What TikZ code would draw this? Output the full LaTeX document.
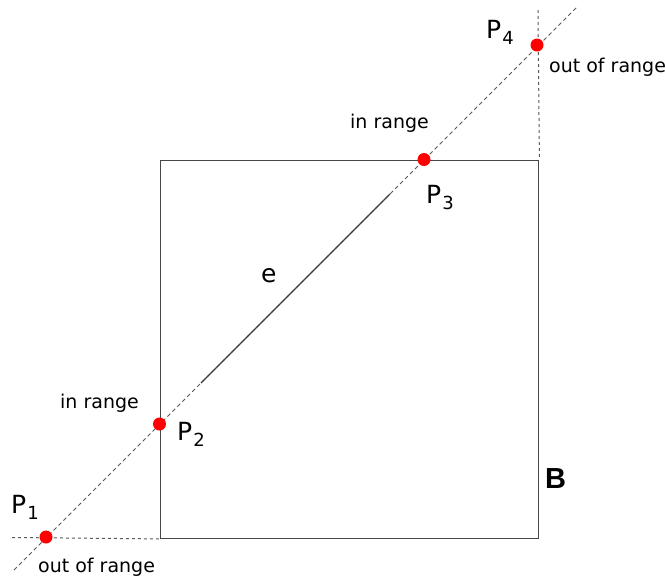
\documentclass[tikz,border=0pt]{standalone}
\usepackage{fontspec}
\setmainfont{DejaVu Sans}
\newfontfamily\boxfont{Liberation Sans}
\newcommand{\pname}[1]{P\kern1pt\raisebox{-6pt}{\fontsize{18}{18}\selectfont #1}}

\begin{document}
\begin{tikzpicture}[x=1pt,y=-1pt, every node/.style={font=\fontsize{19}{21}\selectfont},
  hit/.style={circle,fill=red,inner sep=0pt,minimum size=13pt},
  lbl/.style={anchor=base west,inner sep=0pt},
  plbl/.style={lbl,font=\fontsize{25}{28}\selectfont},
  ray/.style={black!65,line width=1pt,dash pattern=on 4pt off 3pt},
  guide/.style={black!65,line width=1pt,dash pattern=on 3pt off 3pt}]
\useasboundingbox (0,0) rectangle (665,579);
% the box B
\node[draw=black!72,line width=1.4pt,inner sep=0pt,minimum width=378.5pt,minimum height=378pt,anchor=north west] (box) at (159.5,159.5) {};
% ends of the ray and of the guides
\coordinate (lo) at (14,570);
\coordinate (hi) at (577,7);
\coordinate (ea) at (201,383);
\coordinate (eb) at (390,194);
\coordinate (gl) at (12,537.5);
\coordinate (gt) at (538,10);
\draw[guide] (gl) -- (box.south west);
\draw[guide] (gt) -- (box.north east);
\draw[ray] (lo) -- (hi);
\draw[black!75,line width=1.2pt] (ea) -- (eb);
% intersection points
\node[hit] (p1) at (46,537) {};
\node[hit] (p2) at (159.5,424) {};
\node[hit] (p3) at (424,159.5) {};
\node[hit] (p4) at (537,45) {};
\node[plbl] (lp1) at (11,513) {\pname{1}};
\node[plbl] (lp2) at (177,440) {\pname{2}};
\node[plbl] (lp3) at (426,203) {\pname{3}};
\node[plbl] (lp4) at (486,38) {\pname{4}};
\node[lbl] (in2) at (60,408) {in range};
\node[lbl] (in3) at (350,128) {in range};
\node[lbl] (out1) at (38,572) {out of range};
\node[lbl] (out4) at (549,72) {out of range};
\node[lbl,font=\fontsize{25}{28}\selectfont] (e) at (261,282) {e};
\node[lbl,font=\boxfont\bfseries\fontsize{29}{32}\selectfont] (lb) at (545,488) {B};
\end{tikzpicture}
\end{document}
